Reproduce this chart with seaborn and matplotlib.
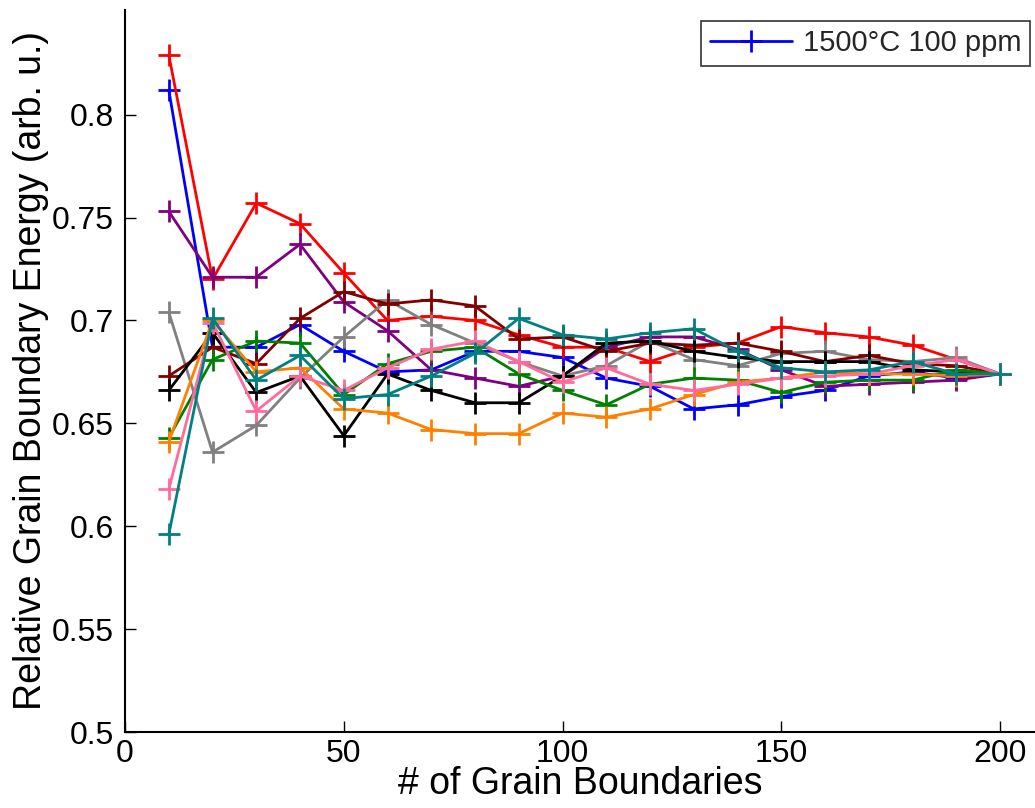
import numpy as np
import pandas as pd
import matplotlib
matplotlib.use("Agg")
import matplotlib.pyplot as plt
import seaborn as sns
from matplotlib.ticker import FormatStrFormatter

sns.set_theme(style="white")
plt.rcParams['font.family'] = ['Liberation Sans', 'DejaVu Sans']

# number of grain boundaries sampled
n_gb = [10, 20, 30, 40, 50, 60, 70, 80, 90, 100,
        110, 120, 130, 140, 150, 160, 170, 180, 190, 200]

# relative grain boundary energy, one list per run
blue = [0.812, 0.687, 0.687, 0.698, 0.685, 0.675, 0.676, 0.685, 0.685, 0.682,
        0.672, 0.668, 0.657, 0.659, 0.663, 0.666, 0.673, 0.675, 0.672, 0.674]
red = [0.829, 0.720, 0.757, 0.747, 0.723, 0.700, 0.702, 0.700, 0.693, 0.687,
       0.687, 0.680, 0.687, 0.689, 0.697, 0.694, 0.692, 0.688, 0.681, 0.674]
purple = [0.753, 0.721, 0.721, 0.737, 0.709, 0.695, 0.676, 0.672, 0.668, 0.673,
          0.687, 0.692, 0.692, 0.686, 0.676, 0.668, 0.669, 0.670, 0.671, 0.674]
gray = [0.704, 0.636, 0.649, 0.672, 0.692, 0.710, 0.698, 0.689, 0.680, 0.673,
        0.678, 0.690, 0.681, 0.678, 0.684, 0.685, 0.681, 0.680, 0.682, 0.674]
maroon = [0.673, 0.687, 0.679, 0.701, 0.714, 0.708, 0.710, 0.707, 0.691, 0.692,
          0.685, 0.689, 0.688, 0.689, 0.685, 0.680, 0.683, 0.679, 0.678, 0.674]
black = [0.666, 0.694, 0.665, 0.673, 0.644, 0.674, 0.666, 0.660, 0.660, 0.673,
         0.689, 0.690, 0.685, 0.682, 0.680, 0.680, 0.680, 0.676, 0.675, 0.674]
green = [0.643, 0.681, 0.690, 0.689, 0.664, 0.679, 0.685, 0.687, 0.674, 0.666,
         0.659, 0.669, 0.672, 0.671, 0.665, 0.670, 0.671, 0.671, 0.676, 0.674]
orange = [0.641, 0.700, 0.675, 0.677, 0.657, 0.655, 0.647, 0.645, 0.645, 0.655,
          0.653, 0.657, 0.664, 0.670, 0.672, 0.675, 0.674, 0.674, 0.673, 0.674]
pink = [0.618, 0.699, 0.656, 0.673, 0.666, 0.677, 0.686, 0.690, 0.680, 0.670,
        0.677, 0.669, 0.666, 0.669, 0.672, 0.673, 0.674, 0.678, 0.681, 0.674]
teal = [0.596, 0.701, 0.671, 0.683, 0.662, 0.664, 0.673, 0.684, 0.701, 0.693,
        0.691, 0.694, 0.696, 0.685, 0.677, 0.675, 0.676, 0.680, 0.674, 0.674]

series = [
    ("1500\u00b0C 100 ppm", blue, "#0000ff"),
    ("red", red, "#ff0000"),
    ("purple", purple, "#800080"),
    ("gray", gray, "#808080"),
    ("maroon", maroon, "#800000"),
    ("black", black, "#000000"),
    ("green", green, "#008000"),
    ("orange", orange, "#ff8000"),
    ("pink", pink, "#ff6b9c"),
    ("teal", teal, "#008080"),
]

fig = plt.figure(figsize=(10.35, 8.08), dpi=100)
ax = fig.add_axes([0.1208, 0.094, 0.8792, 0.894])

for i, (name, vals, col) in enumerate(series):
    df = pd.DataFrame({"n": n_gb, "e": vals})
    sns.lineplot(data=df, x="n", y="e", ax=ax, color=col, marker="+",
                 markersize=16, markeredgewidth=2, markeredgecolor=col,
                 linewidth=2, label=name if i == 0 else None, legend=False)

ax.set_xlim(0, 208)
ax.set_ylim(0.5, 0.851)
ax.set_xticks([0, 50, 100, 150, 200])
ax.set_yticks([0.5, 0.55, 0.6, 0.65, 0.7, 0.75, 0.8])
ax.yaxis.set_major_formatter(FormatStrFormatter('%g'))
ax.tick_params(direction="in", length=8, width=1, labelsize=23,
               colors="black", left=True, bottom=True)
ax.tick_params(axis="y", pad=8)
ax.tick_params(axis="x", pad=5)
for s in ["top", "right"]:
    ax.spines[s].set_visible(False)
for s in ["left", "bottom"]:
    ax.spines[s].set_color("black")
    ax.spines[s].set_linewidth(1.5)

ax.set_xlabel("# of Grain Boundaries", fontsize=27, color="black", labelpad=-2)
ax.set_ylabel("Relative Grain Boundary Energy (arb. u.)", fontsize=27,
              color="black", labelpad=2)

handles, labels = ax.get_legend_handles_labels()
leg = ax.legend(handles[:1], labels[:1], loc="upper right", fontsize=21,
                frameon=True, fancybox=False, handlelength=2.8,
                handletextpad=0.4, borderpad=0.3, borderaxespad=0.0,
                bbox_to_anchor=(0.995, 0.985))
leg.get_frame().set_edgecolor("black")
leg.get_frame().set_linewidth(1.2)

fig.savefig("out.png", dpi=100)
